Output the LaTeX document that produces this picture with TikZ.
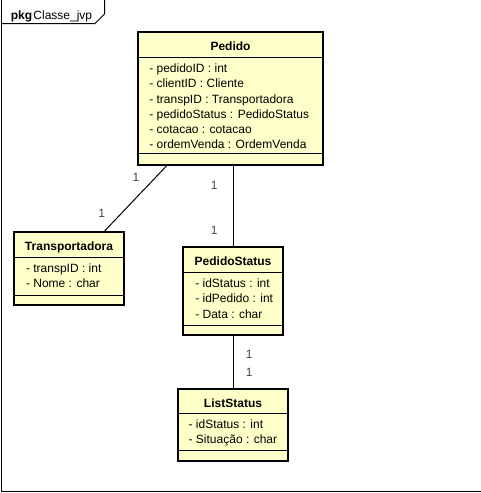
\documentclass[tikz,border=0pt]{standalone}
\usepackage{fontspec}
\setmainfont{Liberation Sans}
\usetikzlibrary{fit}
\definecolor{classfill}{RGB}{255,255,202}
\definecolor{multgray}{RGB}{70,70,70}

\begin{document}
\begin{tikzpicture}[x=0.75pt, y=-0.75pt,
    every node/.style={font=\fontsize{9}{11.4}\selectfont, inner sep=0pt},
    classbox/.style={draw, line width=1.5pt, fill=classfill},
    sepline/.style={line width=0.75pt},
    classname/.style={anchor=base, font=\fontsize{9}{11.4}\selectfont\bfseries},
    attrtext/.style={anchor=north west, align=left},
    assoc/.style={line width=0.75pt},
    mult/.style={text=multgray}]

    \useasboundingbox (0,0) rectangle (481,493);

    % Draw the package frame
    \draw[line width=0.75pt] (1,0) -- (1,491) -- (481,491);
    \draw[line width=0.75pt] (1,23.5) -- (95,23.5) -- (104.5,14) -- (104.5,0);
    \node[anchor=base west] (pkglabel) at (10.5,19) {\textbf{pkg}\hspace{1pt}Classe\_jvp};

    % Pedido
    \node[classbox, fit={(138,32) (323,165)}] (pedido) {};
    \draw[sepline] (138,57) -- (323,57);
    \draw[sepline] (138,153.5) -- (323,153.5);
    \node[classname] (pedidoname) at (230.5,50.5) {Pedido};
    \node[attrtext] (pedidoattrs) at (149,63.8) {- pedidoID : int\\
        - clientID : Cliente\\
        - transpID : Transportadora\\
        - pedidoStatus : PedidoStatus\\
        - cotacao : cotacao\\
        - ordemVenda : OrdemVenda};

    % Transportadora
    \node[classbox, fit={(14,232) (124,305)}] (transp) {};
    \draw[sepline] (14,257) -- (124,257);
    \draw[sepline] (14,295) -- (124,295);
    \node[classname] (transpname) at (69,250.5) {Transportadora};
    \node[attrtext] (transpattrs) at (25.8,263.3) {- transpID : int\\
        - Nome : char};

    % PedidoStatus
    \node[classbox, fit={(183,247) (283,335)}] (status) {};
    \draw[sepline] (183,272) -- (283,272);
    \draw[sepline] (183,325) -- (283,325);
    \node[classname] (statusname) at (233,265.5) {PedidoStatus};
    \node[attrtext] (statusattrs) at (195,278.8) {- idStatus : int\\
        - idPedido : int\\
        - Data : char};

    % ListStatus
    \node[classbox, fit={(178,389) (288,461)}] (list) {};
    \draw[sepline] (178,413) -- (288,413);
    \draw[sepline] (178,450) -- (288,450);
    \node[classname] (listname) at (233,407) {ListStatus};
    \node[attrtext] (listattrs) at (188.4,419.8) {- idStatus : int\\
        - Situação : char};

    % Associations
    \draw[assoc] (pedido) -- (transp);
    \draw[assoc] (pedido.south -| status.north) -- (status.north);
    \draw[assoc] (status.south) -- (list.north);

    % Multiplicities
    \node[mult] (multA) at (136,177.3) {1};
    \node[mult] (multB) at (101.7,213.3) {1};
    \node[mult] (multC) at (214.3,185) {1};
    \node[mult] (multD) at (214.3,230.7) {1};
    \node[mult] (multE) at (249.3,354) {1};
    \node[mult] (multF) at (249.3,372.7) {1};

\end{tikzpicture}
\end{document}
